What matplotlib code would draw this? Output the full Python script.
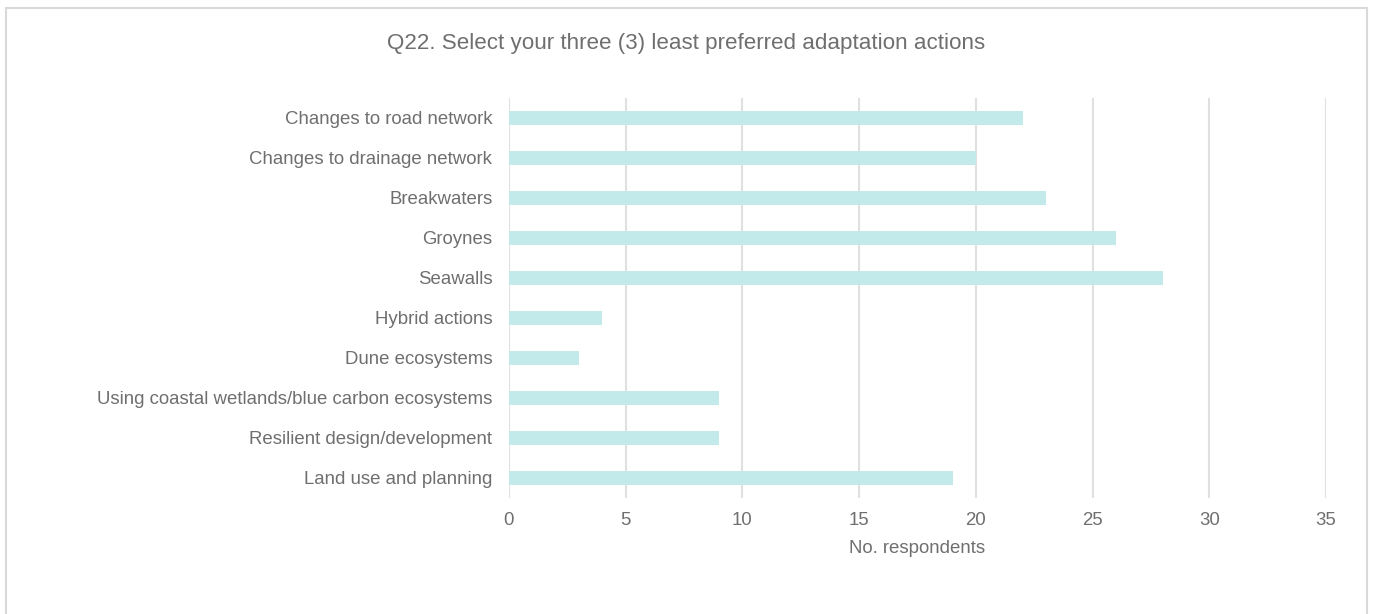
import matplotlib
matplotlib.use('Agg')
import matplotlib.pyplot as plt
import matplotlib.patches as patches

plt.rcParams['font.family'] = ['Liberation Sans', 'DejaVu Sans']

acoes = ['Changes to road network', 'Changes to drainage network', 'Breakwaters',
         'Groynes', 'Seawalls', 'Hybrid actions', 'Dune ecosystems',
         'Using coastal wetlands/blue carbon ecosystems',
         'Resilient design/development', 'Land use and planning']
respondentes = [22, 20, 23, 26, 28, 4, 3, 9, 9, 19]
xticks = [0, 5, 10, 15, 20, 25, 30, 35]

cinza = '#6f6f6f'

fig = plt.figure(figsize=(13.73, 6.14), dpi=100)
ax = fig.add_axes([509/1373, 116/614, 817/1373, 400/614])

y = list(range(len(acoes)))[::-1]
ax.barh(y, respondentes, 0.33, color='#c2eaea', zorder=2)
ax.set_yticks(y)
ax.set_yticklabels(acoes, fontsize=13.4, color=cinza)
ax.set_ylim(-0.5, len(acoes) - 0.5)
ax.set_xlim(0, 35)
ax.set_xticks(xticks)
ax.set_xticklabels([str(t) for t in xticks], fontsize=13.4, color=cinza)
ax.grid(axis='x', color='#e0e0e0', linewidth=1.5, zorder=0)
ax.tick_params(length=0)
ax.tick_params(axis='y', pad=12)
ax.tick_params(axis='x', pad=10)
for s in ax.spines.values():
    s.set_visible(False)
ax.set_xlabel('No. respondents', fontsize=13.4, color=cinza, labelpad=8)

fig.text(686/1373, 1 - 43/614, 'Q22. Select your three (3) least preferred adaptation actions',
         ha='center', va='center', fontsize=16.1, color=cinza)

# moldura
fig.patches.append(patches.Rectangle((6/1373, -0.05), 1361/1373, 1.05 - 8/614,
                                     transform=fig.transFigure, fill=False,
                                     edgecolor='#d9d9d9', linewidth=1.5))

fig.savefig('out.png', dpi=100)
